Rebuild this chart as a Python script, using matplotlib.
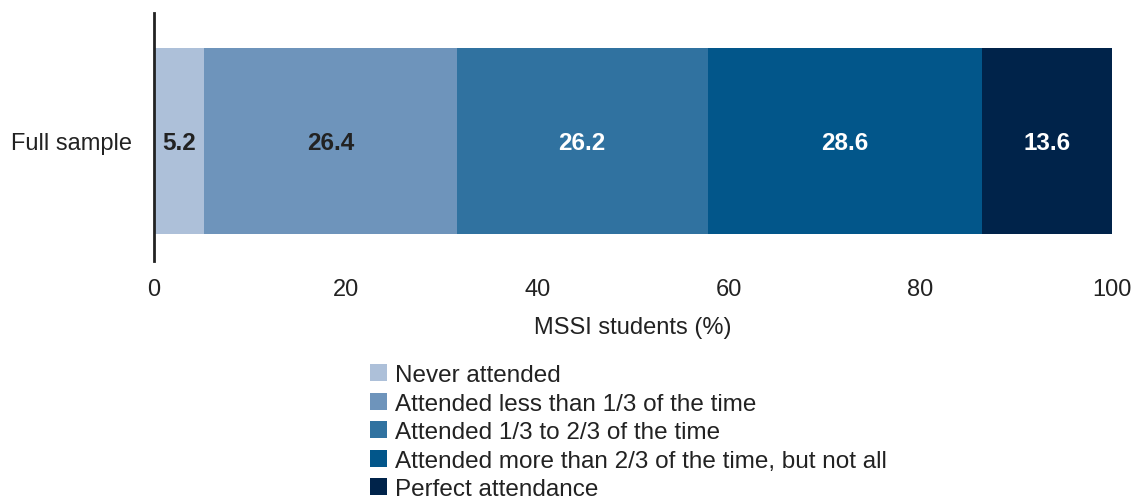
import matplotlib.pyplot as plt
from matplotlib.patches import Patch

plt.rcParams['font.family'] = ['Liberation Sans', 'DejaVu Sans']

# Attendance shares for the full sample (%)
categories = ["Never attended",
              "Attended less than 1/3 of the time",
              "Attended 1/3 to 2/3 of the time",
              "Attended more than 2/3 of the time, but not all",
              "Perfect attendance"]
shares = [5.2, 26.4, 26.2, 28.6, 13.6]
row_label = "Full sample"

colors = ["#adc0d9", "#6e94bb", "#3072a0", "#02568a", "#00234a"]
text_colors = ["#222222", "#222222", "white", "white", "white"]

fig = plt.figure(figsize=(11.33, 5.02), dpi=100)
ax = fig.add_axes([154 / 1133, 1 - 262 / 502, (1112 - 154) / 1133, 248 / 502])

left = 0
for val, col, tcol in zip(shares, colors, text_colors):
    ax.barh(0, val, left=left, height=0.75, color=col, linewidth=0)
    ax.text(left + val / 2, -0.005, f"{val:.1f}", ha="center", va="center",
            fontsize=17.5, fontweight="bold", color=tcol)
    left += val

ax.set_xlim(0, 100)
ax.set_ylim(-0.484, 0.516)
ax.set_xticks([0, 20, 40, 60, 80, 100])
ax.set_yticks([0])
ax.set_yticklabels([row_label])
ax.tick_params(axis="both", length=0, labelsize=17, colors="#222222")
ax.tick_params(axis="x", pad=12)
ax.tick_params(axis="y", pad=16)
ax.set_xlabel("MSSI students (%)", fontsize=17, color="#222222", labelpad=12)

for side in ["top", "right", "bottom"]:
    ax.spines[side].set_visible(False)
ax.spines["left"].set_linewidth(2)
ax.spines["left"].set_color("#222222")
ax.spines["left"].set_zorder(5)

handles = [Patch(facecolor=c, edgecolor="none", label=l) for c, l in zip(colors, categories)]
fig.legend(handles=handles, loc="upper left", bbox_to_anchor=(370 / 1133, 1 - 365 / 502),
           frameon=False, fontsize=17.5, handlelength=0.7, handleheight=0.7,
           handletextpad=0.33, labelspacing=0.27, borderpad=0, borderaxespad=0,
           labelcolor="#222222")

fig.savefig("out.png", dpi=100)
